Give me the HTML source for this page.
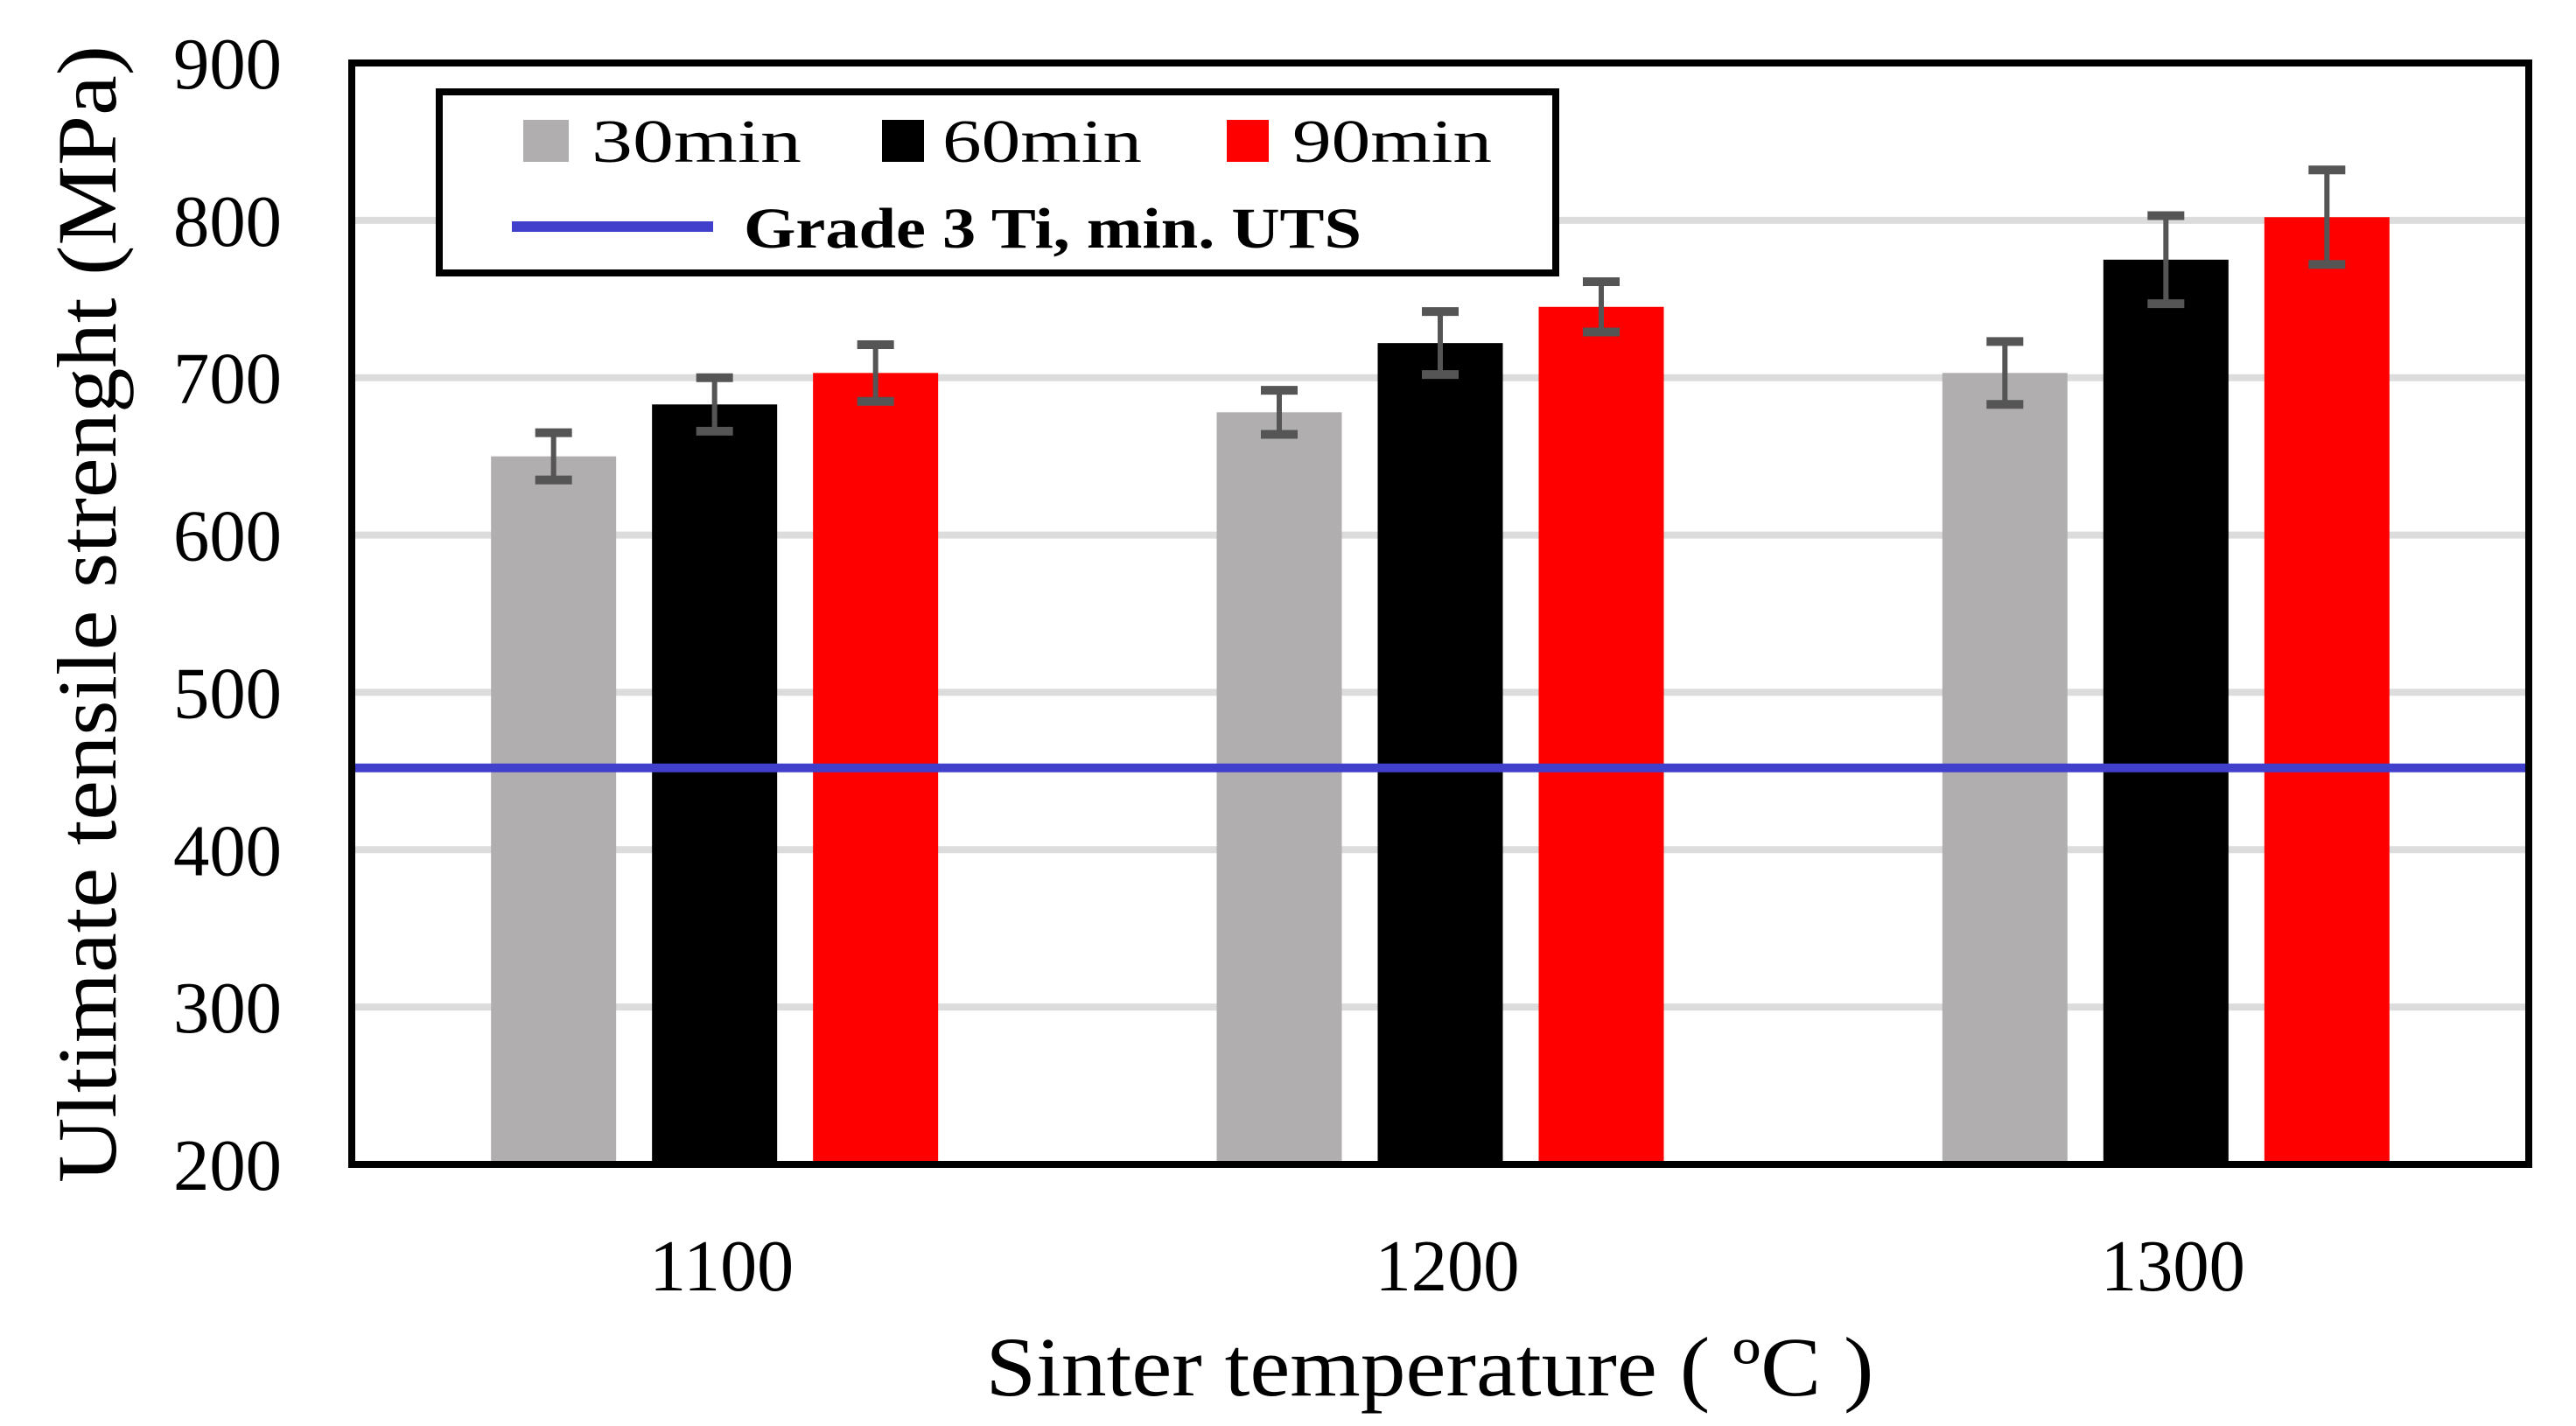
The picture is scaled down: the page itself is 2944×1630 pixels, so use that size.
<!DOCTYPE html>
<html><head><meta charset="utf-8"><style>
html,body{margin:0;padding:0;background:#fff;width:2944px;height:1630px;overflow:hidden}
svg{display:block}
text{font-family:"Liberation Serif",serif;fill:#000}
</style></head><body>
<svg id="chart" width="2944" height="1630" viewBox="0 0 2944 1630" xmlns="http://www.w3.org/2000/svg">
<g id="grid"></g>
<g id="bars"></g>
<g id="errs"></g>
<g id="ref"></g>
<rect x="402" y="72" width="2488" height="1259" fill="none" stroke="#000" stroke-width="8"/>
<g id="yticks"></g>
<g id="xticks"></g>
<text transform="translate(132,702) rotate(-90)" text-anchor="middle" font-size="96" textLength="1300" lengthAdjust="spacingAndGlyphs">Ultimate tensile strenght (MPa)</text>
<text x="1634" y="1595" text-anchor="middle" font-size="96" textLength="1015" lengthAdjust="spacingAndGlyphs">Sinter temperature ( ºC )</text>
<g>
<rect x="502" y="105" width="1276" height="207" fill="#fff" stroke="#000" stroke-width="8"/>
<rect x="598" y="137" width="52" height="48" fill="#b0aeae"/>
<text x="676" y="185" font-size="70" textLength="240" lengthAdjust="spacingAndGlyphs">30min</text>
<rect x="1008" y="137" width="48" height="48" fill="#000"/>
<text x="1077" y="185" font-size="70" textLength="228" lengthAdjust="spacingAndGlyphs">60min</text>
<rect x="1402" y="137" width="48" height="48" fill="#ff0000"/>
<text x="1477" y="185" font-size="70" textLength="228" lengthAdjust="spacingAndGlyphs">90min</text>
<line x1="585" y1="259" x2="815" y2="259" stroke="#4040cc" stroke-width="12"/>
<text x="850" y="283" font-size="66" font-weight="bold" textLength="706" lengthAdjust="spacingAndGlyphs">Grade 3 Ti, min. UTS</text>
</g>
</svg>
<script>
const categories = ["1100", "1200", "1300"];
const seriesNames = ["30min", "60min", "90min"];
const values30 = [650, 678, 703];
const values60 = [683, 722, 775];
const values90 = [703, 745, 802];
const err30 = [15, 14, 20];
const err60 = [17, 20, 28];
const err90 = [18, 16, 30];
const yTicks = [200, 300, 400, 500, 600, 700, 800, 900];
const refUTS = 452;

const NS = "http://www.w3.org/2000/svg";
const plotL = 402, plotR = 2890, plotT = 72, plotB = 1331;
const yMin = 200, yMax = 900;
function y(v){ return plotB - (v - yMin) / (yMax - yMin) * (plotB - plotT); }
const groupW = (plotR - plotL) / categories.length;
function xCenter(i){ return plotL + groupW * (i + 0.5); }
const barW = 143, barStep = 184;
const colors = ["#b0aeae", "#000000", "#ff0000"];
const allVals = [values30, values60, values90];
const allErr = [err30, err60, err90];
function mk(tag, attrs, parent){
  const e = document.createElementNS(NS, tag);
  for (const k in attrs) e.setAttribute(k, attrs[k]);
  parent.appendChild(e);
  return e;
}
const grid = document.getElementById('grid');
yTicks.forEach(t => {
  if (t === yMin || t === yMax) return;
  const l = mk('line', {x1: plotL, x2: plotR, y1: y(t), y2: y(t), stroke: '#dcdcdc', 'stroke-width': 8}, grid);
  
  
});
const yt = document.getElementById('yticks');
yTicks.forEach(t => {
  const tx = mk('text', {x: 322, y: y(t) + 29, 'text-anchor': 'end', 'font-size': 84, textLength: 124, lengthAdjust: 'spacingAndGlyphs'}, yt);
  tx.textContent = t;
  
  
});
const xt = document.getElementById('xticks');
categories.forEach((c, i) => {
  const tx = mk('text', {x: xCenter(i) + 8, y: 1475, 'text-anchor': 'middle', 'font-size': 84, textLength: 165, lengthAdjust: 'spacingAndGlyphs'}, xt);
  tx.textContent = c;
  
  
});
const bars = document.getElementById('bars');
const errs = document.getElementById('errs');
categories.forEach((c, i) => {
  for (let s = 0; s < 3; s++) {
    const cx = xCenter(i) + (s - 1) * barStep;
    const v = allVals[s][i];
    const r = mk('rect', {x: cx - barW / 2, y: y(v), width: barW, height: plotB - y(v), fill: colors[s]}, bars);
    
    
    const e = allErr[s][i];
    const g = mk('g', {stroke: '#555', fill: 'none'}, errs);
    
    
    mk('line', {x1: cx, x2: cx, y1: y(v + e), y2: y(v - e), 'stroke-width': 6}, g);
    mk('line', {x1: cx - 21, x2: cx + 21, y1: y(v + e), y2: y(v + e), 'stroke-width': 10}, g);
    mk('line', {x1: cx - 21, x2: cx + 21, y1: y(v - e), y2: y(v - e), 'stroke-width': 10}, g);
  }
});
const ref = document.getElementById('ref');
const rl = mk('line', {x1: plotL, x2: plotR, y1: y(refUTS), y2: y(refUTS), stroke: '#4040cc', 'stroke-width': 10}, ref);


</script>
</body></html>
